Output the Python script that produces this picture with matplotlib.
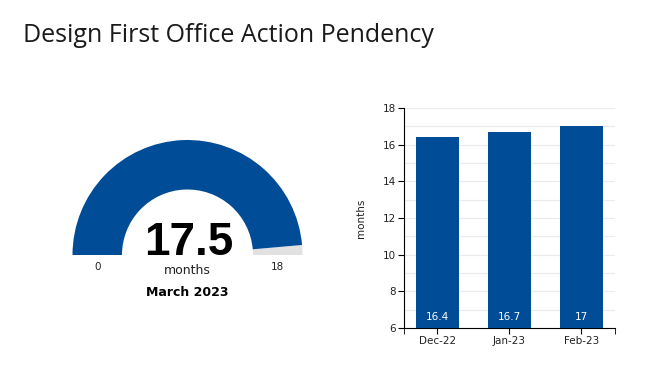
import matplotlib
matplotlib.use("Agg")
import matplotlib.pyplot as plt
from matplotlib.patches import Wedge
import numpy as np

title = "Design First Office Action Pendency"
gauge_value = 17.5
gauge_min = 0
gauge_max = 18
gauge_unit = "months"
gauge_caption = "March 2023"

categories = ["Dec-22", "Jan-23", "Feb-23"]
values = [16.4, 16.7, 17]
y_ticks = [6, 8, 10, 12, 14, 16, 18]

BLUE = "#004c97"
GREY = "#e1e1e1"

W, H = 659, 374
fig = plt.figure(figsize=(W / 100, H / 100), dpi=100)
fig.patch.set_facecolor("white")

# Full-figure pixel-space axes for gauge and title
axp = fig.add_axes([0, 0, 1, 1])
axp.set_xlim(0, W)
axp.set_ylim(0, H)
axp.set_aspect("auto")
axp.axis("off")

def py(y):
    return H - y

axp.text(23, py(35), title, fontsize=18, family=["Open Sans", "DejaVu Sans"],
         fontweight="medium", color="#1a1a1a", ha="left", va="center")

cx, cy = 187.5, py(255)
r_out, r_in = 115, 65.5
frac = (gauge_value - gauge_min) / (gauge_max - gauge_min)
ang = 180 - 180 * frac
axp.add_patch(Wedge((cx, cy), r_out, 0, ang, width=r_out - r_in,
                    facecolor=GREY, edgecolor="none"))
axp.add_patch(Wedge((cx, cy), r_out, ang, 180, width=r_out - r_in,
                    facecolor=BLUE, edgecolor="none"))

axp.text(cx + 1, py(255), f"{gauge_value:g}", fontsize=33, fontweight="bold",
         ha="center", va="baseline", color="black",
         family=["Liberation Sans", "DejaVu Sans"])
axp.text(cx, py(270), gauge_unit, fontsize=9, ha="center", va="center", color="#222222")
axp.text(cx - (r_out + r_in) / 2, py(267), f"{gauge_min}", fontsize=7.5,
         ha="center", va="center", color="#222222")
axp.text(cx + (r_out + r_in) / 2, py(267), f"{gauge_max}", fontsize=7.5,
         ha="center", va="center", color="#222222")
axp.text(cx, py(293), gauge_caption, fontsize=9, fontweight="bold",
         ha="center", va="center", color="black")

# Bar chart
x0, x1 = 404, 615
y0, y1 = 108, 328
ax = fig.add_axes([x0 / W, (H - y1) / H, (x1 - x0) / W, (y1 - y0) / H])
x = np.arange(len(categories))
ax.bar(x, values, width=0.6, color=BLUE, zorder=3)
ax.set_ylim(6, 18)
ax.set_xlim(-0.46, 2.47)
ax.set_yticks(y_ticks)
ax.set_yticks(np.arange(6, 19, 1), minor=True)
ax.grid(axis="y", which="both", color="#ebebeb", linewidth=0.8, zorder=0)
ax.set_xticks(x)
ax.set_xticklabels(categories)
ax.set_xticks([-0.46, 2.47], minor=True)
ax.tick_params(axis="x", which="minor", length=4, color="black")
ax.tick_params(axis="y", which="minor", length=0)
ax.tick_params(axis="both", which="major", labelsize=7.5, length=4,
               color="black", labelcolor="#222222", pad=2)
for s in ["top", "right"]:
    ax.spines[s].set_visible(False)
for s in ["left", "bottom"]:
    ax.spines[s].set_color("black")
    ax.spines[s].set_linewidth(0.8)
ax.set_ylabel(gauge_unit, fontsize=7.5, color="#222222", labelpad=12)
for xi, v in zip(x, values):
    ax.text(xi, 6.35, f"{v:g}", ha="center", va="bottom", color="white", fontsize=7.5, zorder=4)

fig.savefig("out.png", dpi=100)
